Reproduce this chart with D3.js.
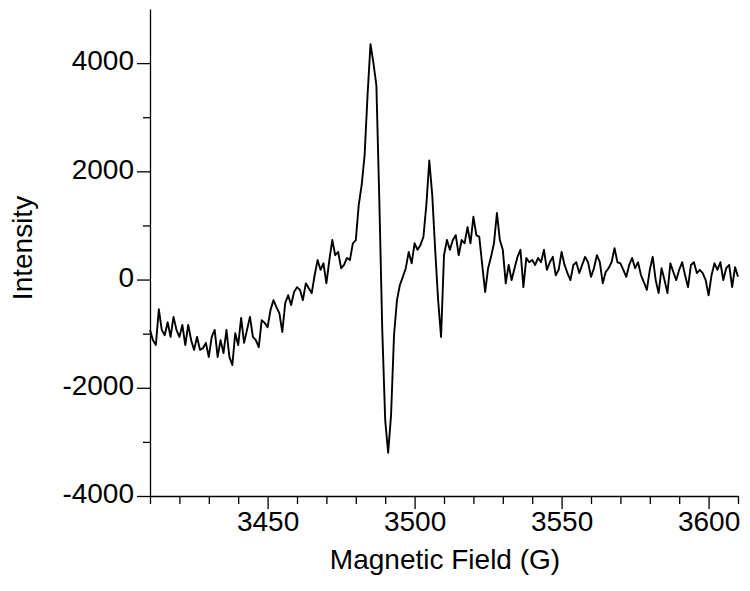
<!DOCTYPE html>
<html>
<head>
<meta charset="utf-8">
<script src="https://cdn.jsdelivr.net/npm/d3@7"></script>
<style>
  body { margin: 0; background: #fff; }
  svg { display: block; }
</style>
</head>
<body>
<div id="chart"></div>
<script>
// EPR spectrum at 1 G steps (3410 .. 3610 G)
const fieldStart = 3410;
const fieldStep = 1;
const intensity = [
  -930, -1120, -1210, -550, -930, -1030, -790, -1060, -690, -930,
  -1060, -840, -1210, -840, -1120, -1300, -1060, -1300, -1270, -1170,
  -1430, -1060, -930, -1430, -1120, -1360, -930, -1430, -1580, -990,
  -1210, -710, -1170, -930, -690, -1060, -1120, -1250, -750, -800,
  -880, -560, -380, -510, -620, -970, -430, -290, -470, -230,
  -140, -190, -380, -70, -160, -250, 80, 360, 180, 300,
  -70, 360, 730, 450, 510, 210, 270, 400, 360, 670,
  730, 1380, 1750, 2300, 3410, 4350, 4000, 3590, 1470, -930,
  -2600, -3200, -2500, -1030, -380, -100, 50, 210, 510, 300,
  670, 550, 640, 790, 1380, 2200, 1560, 550, -380, -1060,
  450, 730, 550, 730, 820, 450, 730, 670, 970, 670,
  1160, 820, 790, 270, -230, 210, 420, 670, 1230, 730,
  550, -70, 270, -10, 210, 420, 550, -140, 400, 320,
  360, 270, 400, 320, 550, 180, 320, 420, 80, 180,
  510, 270, 120, -10, 270, 320, 120, 270, 420, 320,
  50, 210, 450, 320, -70, 140, 210, 320, 580, 320,
  300, 180, 50, 270, 400, 210, 320, 80, -50, -190,
  180, 420, -10, -250, 210, -10, -250, 300, 140, -10,
  180, 320, 80, -140, 270, 320, 120, 180, 120, -10,
  -290, 80, 300, 180, 320, -10, 210, 270, -140, 230,
  50
];

const xMajorTicks = [3450, 3500, 3550, 3600];
const xMinorTicks = [3410, 3420, 3430, 3440, 3460, 3470, 3480, 3490, 3510, 3520,
                     3530, 3540, 3560, 3570, 3580, 3590, 3610];
const yMajorTicks = [-4000, -2000, 0, 2000, 4000];
const yMinorTicks = [-3000, -1000, 1000, 3000];

const xLabel = 'Magnetic Field (G)';
const yLabel = 'Intensity';

const width = 750;
const height = 591;
const margin = {left: 150, right: 12, top: 9, bottom: 95};
const font = 'Arial, "Liberation Sans", Helvetica, sans-serif';

const svg = d3.select('#chart').append('svg')
    .attr('width', width)
    .attr('height', height)
    .style('font-family', font);

const x = d3.scaleLinear()
    .domain([3410, 3610])
    .range([margin.left, width - margin.right]);

const y = d3.scaleLinear()
    .domain([-4000, 5000])
    .range([height - margin.bottom, margin.top]);

const points = intensity.map((v, i) => [fieldStart + i * fieldStep, v]);

// minor ticks first, then the major axis on top
svg.append('g')
    .attr('transform', `translate(0,${y.range()[0]})`)
    .call(d3.axisBottom(x).tickValues(xMinorTicks).tickSize(8).tickSizeOuter(0).tickFormat(''))
    .call(g => g.select('.domain').remove());

svg.append('g')
    .attr('transform', `translate(${x.range()[0]},0)`)
    .call(d3.axisLeft(y).tickValues(yMinorTicks).tickSize(7).tickSizeOuter(0).tickFormat(''))
    .call(g => g.select('.domain').remove());

const xAxis = svg.append('g')
    .attr('transform', `translate(0,${y.range()[0]})`)
    .call(d3.axisBottom(x).tickValues(xMajorTicks).tickSize(13).tickSizeOuter(0).tickPadding(2).tickFormat(d3.format('d')));

const yAxis = svg.append('g')
    .attr('transform', `translate(${x.range()[0]},0)`)
    .call(d3.axisLeft(y).tickValues(yMajorTicks).tickSize(13).tickSizeOuter(0).tickPadding(3).tickFormat(d => d3.format('d')(d).replace('−', '-')));

svg.selectAll('.tick line, .domain')
    .attr('stroke', '#000')
    .attr('stroke-width', 1.3);

svg.selectAll('.tick text')
    .attr('fill', '#000')
    .style('font-family', font)
    .style('font-size', '28px');

yAxis.selectAll('.tick text').attr('dy', '0.24em');

svg.append('path')
    .datum(points)
    .attr('fill', 'none')
    .attr('stroke', '#000')
    .attr('stroke-width', 1.9)
    .attr('stroke-linejoin', 'round')
    .attr('d', d3.line().x(d => x(d[0])).y(d => y(d[1])));

svg.append('text')
    .attr('x', 445)
    .attr('y', 569)
    .attr('text-anchor', 'middle')
    .style('font-size', '28px')
    .text(xLabel);

svg.append('text')
    .attr('transform', 'translate(32,248) rotate(-90)')
    .attr('text-anchor', 'middle')
    .style('font-size', '28px')
    .text(yLabel);
</script>
</body>
</html>
